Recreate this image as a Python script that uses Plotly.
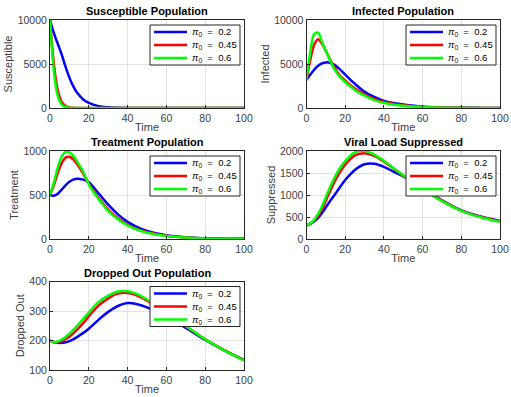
import plotly.graph_objects as go

t = [0, 2, 4, 6, 8, 10, 12, 14, 17, 20, 25, 30, 35, 40, 45, 50, 60, 70, 80, 90, 100]
pi_labels = ["0.2", "0.45", "0.6"]
colors = ["#0000ff", "#ff0000", "#00ff00"]

susceptible = [
    [10000, 8500, 7300, 6100, 4700, 3450, 2450, 1720, 1000, 580, 210, 75, 27, 10, 3, 1, 0, 0, 0, 0, 0],
    [10000, 5000, 2000, 700, 230, 70, 20, 5, 1, 0, 0, 0, 0, 0, 0, 0, 0, 0, 0, 0, 0],
    [10000, 4200, 1400, 400, 110, 30, 8, 2, 0, 0, 0, 0, 0, 0, 0, 0, 0, 0, 0, 0, 0],
]
infected = [
    [3200, 3800, 4350, 4800, 5080, 5180, 5150, 4950, 4450, 3800, 2750, 1850, 1250, 810, 560, 390, 150, 65, 28, 12, 5],
    [3200, 5500, 7200, 7800, 7300, 6500, 5600, 4800, 3750, 3100, 2200, 1550, 1030, 690, 460, 310, 130, 55, 25, 10, 5],
    [3200, 6400, 8400, 8550, 7500, 6500, 5500, 4600, 3600, 2950, 2050, 1400, 900, 580, 380, 250, 100, 40, 18, 8, 3],
]
treatment = [
    [500, 492, 515, 560, 610, 650, 675, 685, 675, 646, 520, 390, 280, 195, 135, 92, 42, 19, 9, 4, 2],
    [500, 610, 750, 860, 925, 935, 905, 850, 750, 630, 470, 335, 235, 165, 115, 80, 38, 18, 8, 4, 2],
    [500, 640, 810, 935, 990, 985, 945, 880, 770, 620, 455, 320, 225, 155, 105, 72, 34, 16, 7, 3, 1],
]
suppressed = [
    [310, 345, 400, 480, 590, 720, 850, 970, 1160, 1340, 1570, 1700, 1710, 1640, 1530, 1420, 1150, 880, 650, 510, 410],
    [310, 350, 420, 530, 680, 870, 1070, 1260, 1500, 1690, 1900, 1950, 1890, 1760, 1600, 1440, 1140, 870, 645, 505, 400],
    [310, 355, 440, 570, 740, 950, 1160, 1350, 1590, 1770, 1970, 2000, 1920, 1780, 1610, 1445, 1135, 860, 640, 495, 390],
]
dropped = [
    [200, 195, 192, 192, 194, 198, 204, 212, 225, 240, 270, 297, 317, 327, 323, 312, 280, 243, 202, 166, 134],
    [200, 194, 194, 198, 205, 213, 224, 237, 258, 282, 318, 343, 359, 361, 352, 335, 293, 248, 204, 167, 134],
    [200, 195, 197, 203, 212, 223, 236, 250, 272, 295, 330, 352, 366, 367, 357, 339, 295, 249, 204, 166, 133],
]

x_ticks = [0, 20, 40, 60, 80, 100]
panels = [
    ("Susceptible Population", "Susceptible", susceptible, [0, 10000], [0, 5000, 10000]),
    ("Infected Population", "Infected", infected, [0, 10000], [0, 5000, 10000]),
    ("Treatment Population", "Treatment", treatment, [0, 1000], [0, 500, 1000]),
    ("Viral Load Suppressed", "Suppressed", suppressed, [0, 2000], [0, 500, 1000, 1500, 2000]),
    ("Dropped Out Population", "Dropped Out", dropped, [100, 400], [100, 200, 300, 400]),
]

W, H = 511, 397
xdoms = [(50, 244), (306.5, 500)]
ydoms = [(20, 108), (151, 239), (281.5, 370)]

FONT = "Liberation Sans, Arial, sans-serif"
GRAY = "#404040"
fig = go.Figure()
annotations = []
shapes = []
layout = dict(
    width=W, height=H, margin=dict(l=0, r=0, t=0, b=0),
    paper_bgcolor="white", plot_bgcolor="white",
    font=dict(family=FONT, size=10, color=GRAY),
    showlegend=False,
)

for i, (title, ylab, data, yr, yt) in enumerate(panels):
    r, c = divmod(i, 2)
    n = i + 1
    xa = "xaxis" if n == 1 else f"xaxis{n}"
    ya = "yaxis" if n == 1 else f"yaxis{n}"
    xref = "x" if n == 1 else f"x{n}"
    yref = "y" if n == 1 else f"y{n}"
    x0, x1 = xdoms[c]
    y0, y1 = ydoms[r]
    axis_common = dict(
        showline=True, linecolor="#262626", linewidth=1, mirror=True,
        showgrid=True, gridcolor="#e3e3e3", gridwidth=1,
        ticks="inside", ticklen=3, tickcolor="#262626",
        zeroline=False, tickfont=dict(size=10.5, color=GRAY), automargin=False,
    )
    layout[xa] = dict(axis_common, domain=[x0 / W, x1 / W], range=[0, 100],
                      tickvals=x_ticks, ticktext=[str(v) for v in x_ticks], anchor=yref,
                      title=dict(text="Time", standoff=0, font=dict(size=11, color=GRAY)))
    layout[ya] = dict(axis_common, domain=[1 - y1 / H, 1 - y0 / H], range=yr,
                      tickvals=yt, ticktext=[str(v) for v in yt], anchor=xref,
                      title=dict(text=ylab, standoff=2, font=dict(size=11, color=GRAY)))
    annotations.append(dict(
        text=f"<b>{title}</b>", x=(x0 + x1) / 2 / W, y=1 - (y0 - 1) / H,
        xref="paper", yref="paper", xanchor="center", yanchor="bottom",
        showarrow=False, font=dict(size=11, color="#000000", family=FONT),
    ))
    # legend box (drawn as layout decoration)
    lx0, lx1 = x1 - 94, x1 - 4
    ly0, ly1 = y0 + 5, y0 + 45
    shapes.append(dict(type="rect", xref="paper", yref="paper",
                       x0=lx0 / W, x1=lx1 / W, y0=1 - ly1 / H, y1=1 - ly0 / H,
                       line=dict(color="#262626", width=1), fillcolor="white", layer="above"))
    for k in range(3):
        fig.add_trace(go.Scatter(
            x=t, y=data[k], mode="lines", line=dict(color=colors[k], width=2.5, shape="spline"),
            name=f"π0 = {pi_labels[k]}", xaxis=xref, yaxis=yref,
        ))
        yy = ly0 + 7 + k * 13
        shapes.append(dict(type="line", xref="paper", yref="paper",
                           x0=(lx0 + 4) / W, x1=(lx0 + 37) / W, y0=1 - yy / H, y1=1 - yy / H,
                           line=dict(color=colors[k], width=2.5), layer="above"))
        annotations.append(dict(
            text=f"<i>π</i><sub>0</sub>  =  {pi_labels[k]}", x=(lx0 + 40) / W, y=1 - yy / H,
            xref="paper", yref="paper", xanchor="left", yanchor="middle",
            showarrow=False, font=dict(size=9.5, color="#000000", family=FONT),
        ))

layout["annotations"] = annotations
layout["shapes"] = shapes
fig.update_layout(**layout)
fig.write_html("out.html", config={"displayModeBar": False},
               post_script="document.body.style.margin='0';")
